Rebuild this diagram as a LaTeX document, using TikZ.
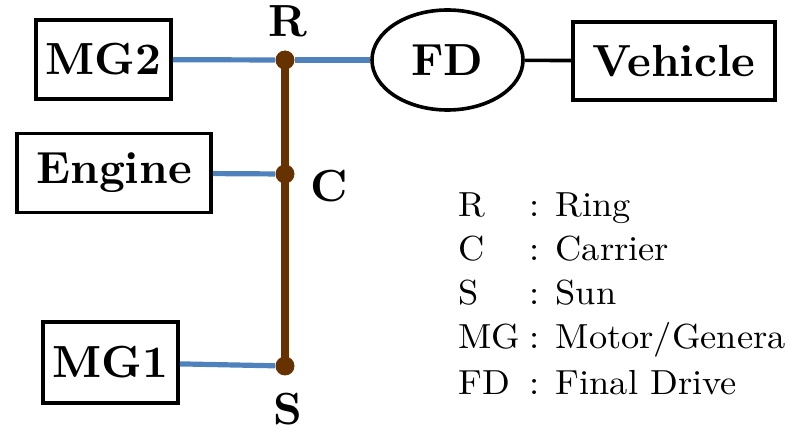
\documentclass[tikz,border=0pt]{standalone}
\usepackage{graphicx}
\usepackage{tikz}
\usetikzlibrary{shapes.geometric}
\definecolor{shaft}{HTML}{4F81BD}
\definecolor{lever}{HTML}{663300}
\newcommand{\bigtag}[1]{\scalebox{2.25}{\bfseries #1}}
\newcommand{\keytag}[1]{\scalebox{1.82}[1.74]{#1}}
\tikzset{
  unit/.style={draw=black,line width=1.8pt,minimum height=39.5pt,inner sep=0pt,
               font=\normalsize},
  gearlabel/.style={font=\normalsize,inner sep=0pt,anchor=base},
  shaftline/.style={draw=shaft,line width=2.6pt},
  leverline/.style={draw=lever,line width=3.6pt,shorten <=-2pt,shorten >=-2pt},
  pivot/.style={circle,fill=lever,minimum size=9.5pt,inner sep=0pt},
  keytext/.style={font=\normalsize,inner sep=0pt,anchor=base west},
}

\begin{document}
\begin{tikzpicture}[x=0.5pt,y=-0.5pt]
  \useasboundingbox (0,0) rectangle (789,433);
  \node[unit,minimum width=67.5pt] (mg2) at (103.5,59.5) {\bigtag{MG2}};
  \node[unit,minimum width=97pt] (engine) at (114,173) {\bigtag{Engine}};
  \node[unit,minimum width=67.5pt,minimum height=40.5pt] (mg1) at (110.5,362.5) {\bigtag{MG1}};
  \node[unit,ellipse,minimum width=75.5pt,minimum height=50pt] (fd) at (447.5,60) {\bigtag{FD}};
  \node[unit,minimum width=101pt,minimum height=39pt] (vehicle) at (674,61) {\bigtag{Vehicle}};

  \node[pivot] (ring) at (285,60) {};
  \node[pivot] (carrier) at (285,174) {};
  \node[pivot] (sun) at (285,366) {};
  \node[gearlabel] (rlabel) at (287.5,37) {\bigtag{R}};
  \node[gearlabel] (clabel) at (329,202) {\bigtag{C}};
  \node[gearlabel] (slabel) at (288,425) {\bigtag{S}};

  \draw[leverline] (ring) -- (sun);
  \draw[shaftline] (mg2) -- (ring);
  \draw[shaftline] (ring) -- (fd);
  \draw[shaftline] (engine) -- (carrier);
  \draw[shaftline] (mg1) -- (sun);
  \draw[line width=1.8pt] (fd) -- (vehicle);

  \foreach \i/\k/\v/\yb in {1/R/Ring/217,2/C/Carrier/261,3/S/Sun/305,
                            4/MG/{Motor/Genera}/349,5/FD/Final Drive/394}{
    \node[keytext] (key\i) at (458,\yb) {\keytag{\k}};
    \node[keytext] (val\i) at (529,\yb) {\keytag{: \v}};
  }
\end{tikzpicture}
\end{document}
